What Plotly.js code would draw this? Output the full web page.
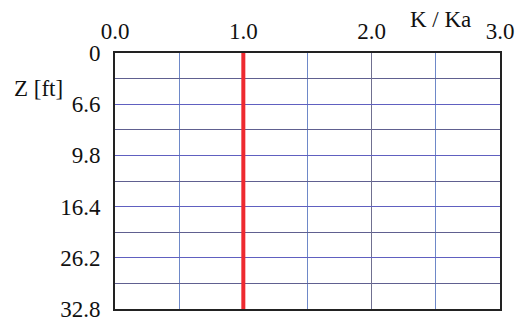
<!DOCTYPE html>
<html><head><meta charset="utf-8">
<script src="https://cdn.plot.ly/plotly-3.0.1.min.js"></script>
<style>html,body{margin:0;padding:0;background:#fff}#c{width:520px;height:323px}</style>
</head><body><div id="c"></div>
<script>
// K/Ka ratio vs depth row
const xTickVals = [0, 1, 2, 3];
const xTickText = ['0.0', '1.0', '2.0', '3.0'];
const depthRowVals = [0, 2, 4, 6, 8, 10];
const depthLabels = ['0', '6.6', '9.8', '16.4', '26.2', '32.8'];
const lineRows = [0, 10];
const lineRatio = [1.0, 1.0];

const font = {family: '"Liberation Serif", "Times New Roman", serif', size: 23, color: '#111'};

const trace = {
  x: lineRatio, y: lineRows, mode: 'lines', type: 'scatter',
  line: {color: '#ee2a30', width: 4}, showlegend: false, hoverinfo: 'skip'
};

const layout = {
  width: 520, height: 323,
  margin: {l: 115, r: 20, t: 53, b: 14},
  paper_bgcolor: '#fff', plot_bgcolor: '#fff',
  font: font,
  xaxis: {
    side: 'top', range: [0, 3], tickmode: 'array', tickvals: xTickVals, ticktext: xTickText,
    showgrid: true, gridcolor: '#707090', gridwidth: 1,
    minor: {dtick: 0.5, showgrid: true, gridcolor: '#6e88c8', gridwidth: 1},
    showline: true, mirror: true, linecolor: '#222', linewidth: 2,
    ticks: '', ticklabelstandoff: 3, zeroline: false, tickfont: font
  },
  yaxis: {
    range: [10, 0], tickmode: 'array', tickvals: depthRowVals, ticktext: depthLabels,
    showgrid: true, gridcolor: '#6060c0', gridwidth: 1,
    minor: {tickmode: 'array', tickvals: [1, 3, 5, 7, 9], showgrid: true, gridcolor: '#606090', gridwidth: 1},
    showline: true, mirror: true, linecolor: '#222', linewidth: 2,
    ticks: '', ticklabelstandoff: 8, zeroline: false, tickfont: font
  },
  annotations: [
    {text: 'K / Ka', xref: 'paper', yref: 'paper', x: 0.845, y: 1.13, xanchor: 'center', yanchor: 'middle', showarrow: false, font: font},
    {text: 'Z [ft]', xref: 'paper', yref: 'paper', x: -0.2, y: 0.86, xanchor: 'center', yanchor: 'middle', showarrow: false, font: font}
  ]
};

Plotly.newPlot('c', [trace], layout, {staticPlot: true, displayModeBar: false});
</script>
</body></html>
